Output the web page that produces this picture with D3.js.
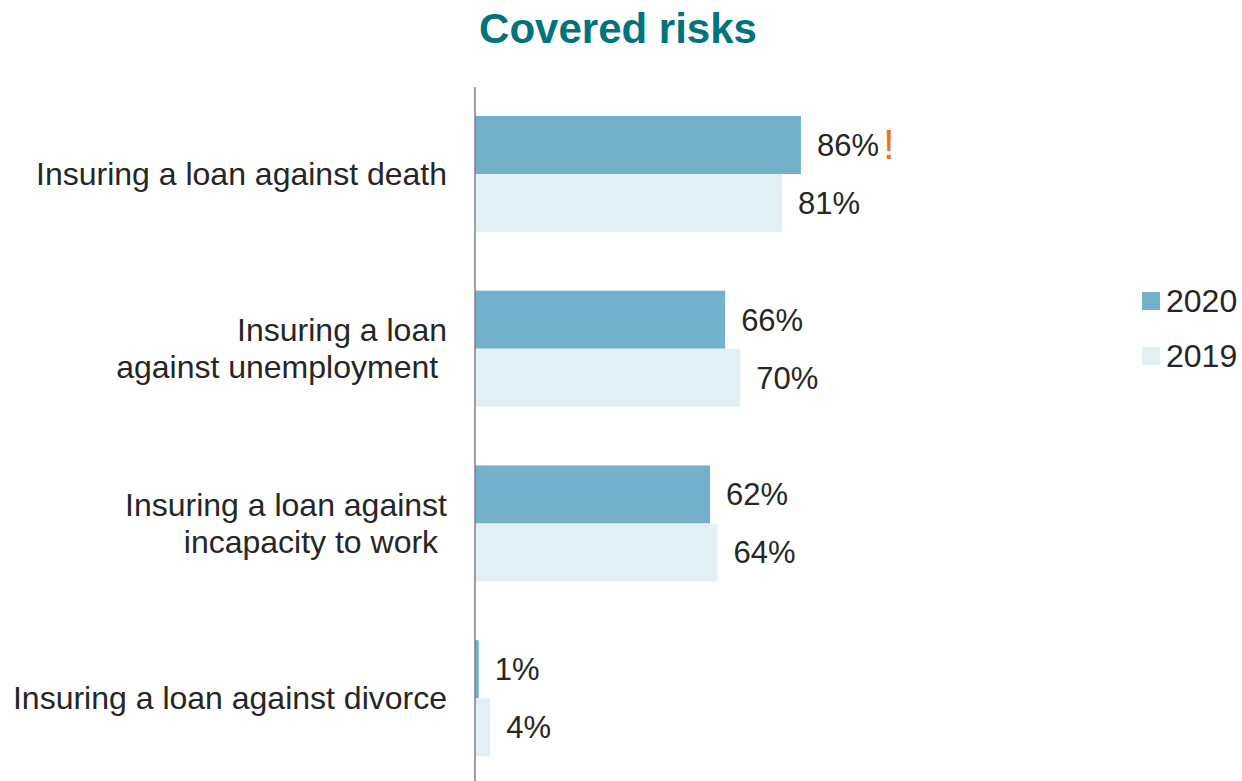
<!DOCTYPE html>
<html>
<head>
<meta charset="utf-8">
<script src="https://cdn.jsdelivr.net/npm/d3@7"></script>
<style>
  body { margin: 0; background: #fff; }
  svg { font-family: "Liberation Sans", Arial, sans-serif; }
</style>
</head>
<body>
<svg id="chart" width="1242" height="781"></svg>
<script>
const categories = [
  ["Insuring a loan against death"],
  ["Insuring a loan", "against unemployment "],
  ["Insuring a loan against", "incapacity to work "],
  ["Insuring a loan against divorce"]
];
const series = ["2020", "2019"];
const values2020 = [86, 66, 62, 1];
const values2019 = [81, 70, 64, 4];
const flagged = [true, false, false, false]; // orange "!" after 2020 value

const colors = { "2020": "#72b1c9", "2019": "#e2eff4" };

const svg = d3.select("#chart");

const x = d3.scaleLinear().domain([0, 100]).range([475, 854]);
const y = d3.scaleBand()
            .domain(d3.range(categories.length))
            .range([86.6, 785.6])
            .paddingInner(0.336)
            .paddingOuter(0.168);
const ySub = d3.scaleBand().domain(series).range([0, y.bandwidth()]);

// title
svg.append("text")
   .attr("x", 618)
   .attr("y", 43)
   .attr("text-anchor", "middle")
   .attr("font-size", "42px")
   .attr("font-weight", "bold")
   .attr("fill", "#00747a")
   .text("Covered risks");

const rows = categories.map((c, i) => ({
  label: c,
  vals: { "2020": values2020[i], "2019": values2019[i] },
  flag: flagged[i],
  i: i
}));

const groups = svg.selectAll("g.cat")
  .data(rows)
  .enter()
  .append("g")
  .attr("class", "cat")
  .attr("transform", d => "translate(0," + y(d.i) + ")");

groups.selectAll("rect")
  .data(d => series.map(s => ({ s: s, v: d.vals[s] })))
  .enter()
  .append("rect")
  .attr("x", x(0))
  .attr("y", d => ySub(d.s))
  .attr("width", d => x(d.v) - x(0))
  .attr("height", ySub.bandwidth())
  .attr("fill", d => colors[d.s]);

groups.selectAll("text.val")
  .data(d => series.map(s => ({ s: s, v: d.vals[s], flag: d.flag && s === "2020" })))
  .enter()
  .append("text")
  .attr("class", "val")
  .attr("x", d => x(d.v) + 16)
  .attr("y", d => ySub(d.s) + ySub.bandwidth() / 2)
  .attr("dy", "0.35em")
  .attr("font-size", "31px")
  .attr("fill", "#262626")
  .each(function(d) {
    const t = d3.select(this);
    t.append("tspan").text(d.v + "%");
    if (d.flag) {
      t.append("tspan").attr("fill", "#e87722").attr("dx", 4).attr("dy", 3)
       .attr("font-size", "42px").text("!");
    }
  });

// category labels
groups.append("text")
  .attr("text-anchor", "end")
  .attr("font-size", "32px")
  .attr("fill", "#262626")
  .style("white-space", "pre")
  .each(function(d) {
    const t = d3.select(this);
    const n = d.label.length;
    d.label.forEach((line, k) => {
      t.append("tspan")
       .attr("x", 447)
       .attr("y", y.bandwidth() / 2 + (k - (n - 1) / 2) * 37)
       .attr("dy", "0.35em")
       .text(line);
    });
  });

// axis line
svg.append("line")
   .attr("x1", x(0)).attr("x2", x(0))
   .attr("y1", 87).attr("y2", 781)
   .attr("stroke", "#7f7f7f")
   .attr("stroke-width", 1.5);

// legend
const legend = svg.selectAll("g.legend")
  .data(series)
  .enter()
  .append("g")
  .attr("class", "legend")
  .attr("transform", (d, i) => "translate(1142," + (301 + i * 55) + ")");

legend.append("rect")
  .attr("x", 0).attr("y", -9)
  .attr("width", 18).attr("height", 18)
  .attr("fill", d => colors[d]);

legend.append("text")
  .attr("x", 24)
  .attr("dy", "0.35em")
  .attr("font-size", "32px")
  .attr("fill", "#262626")
  .text(d => d);
</script>
</body>
</html>
